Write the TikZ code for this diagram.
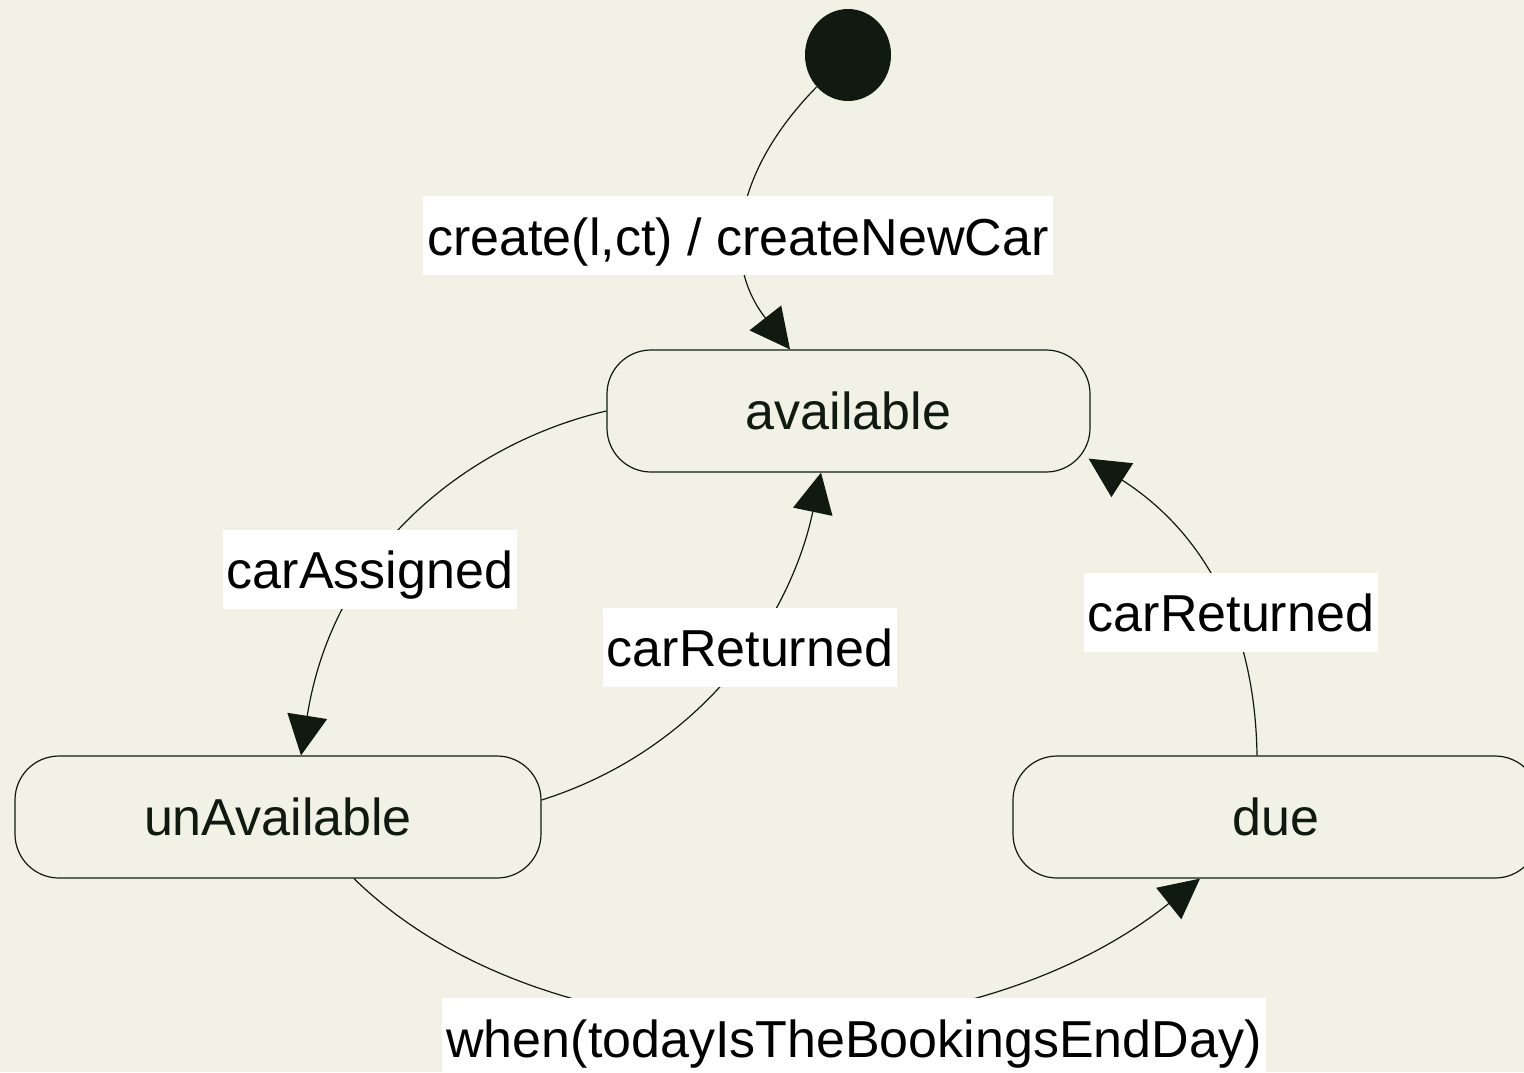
\documentclass[tikz,border=0pt]{standalone}
\usepackage{fontspec}
\setmainfont{Liberation Sans}
\usetikzlibrary{arrows.meta,shapes.geometric,calc}
\definecolor{bg}{RGB}{241,241,230}
\definecolor{ink}{RGB}{16,26,16}
\begin{document}
\begin{tikzpicture}[x=0.5pt,y=-0.5pt,
  state/.style={draw=ink,line width=0.6pt,rounded corners=22pt,minimum height=61pt,
    inner sep=0pt,font=\fontsize{26pt}{30pt}\selectfont,text=ink},
  initial/.style={ellipse,fill=ink,draw=none,minimum width=43pt,minimum height=46pt,inner sep=0pt},
  trans/.style={draw=ink,line width=0.6pt,-{Triangle[length=20pt,width=20pt]}},
  evlabel/.style={fill=white,inner xsep=2pt,inner ysep=0pt,text height=29.5pt,text depth=10pt,
    font=\fontsize{26pt}{30pt}\selectfont,text=black}]
% canvas
\fill[bg] (0,0) rectangle (1524,1072);
\useasboundingbox (0,0) rectangle (1524,1072);

% states
\node[initial] (init) at (848,55) {};
\node[state,minimum width=241.5pt] (available) at (848.5,411) {available};
\node[state,minimum width=263pt] (unavail) at (278,817) {unAvailable};
\node[state,minimum width=263pt] (due) at (1276,817) {due};

% transitions
\draw[trans] (init) .. controls (735,170) and (720,260) .. ($(available.north)+(-58.5,0)$);
\draw[trans] (available.west) .. controls (480,440) and (335,540) .. ($(unavail.north)+(23,0)$);
\draw[trans] ($(unavail.east)+(0,-17)$) .. controls (700,750) and (790,620) .. ($(available.south)+(-27.5,0)$);
\draw[trans] ($(due.north)+(-19,0)$) .. controls (1255,620) and (1200,530) .. ($(available.south east)+(-2,-14)$);
\draw[trans] ($(unavail.south)+(76,0)$) .. controls (550,1070) and (960,1070) .. ($(due.south)+(-76,0)$);

% event labels
\node[evlabel] (lcreate) at (738,235.5) {create(l,ct) / createNewCar};
\node[evlabel] (lassigned) at (370,569) {carAssigned};
\node[evlabel] (lreturnA) at (750,647) {carReturned};
\node[evlabel] (lreturnB) at (1231,612) {carReturned};
\node[evlabel] (lwhen) at (854,1037.5) {when(todayIsTheBookingsEndDay)};
\end{tikzpicture}
\end{document}
